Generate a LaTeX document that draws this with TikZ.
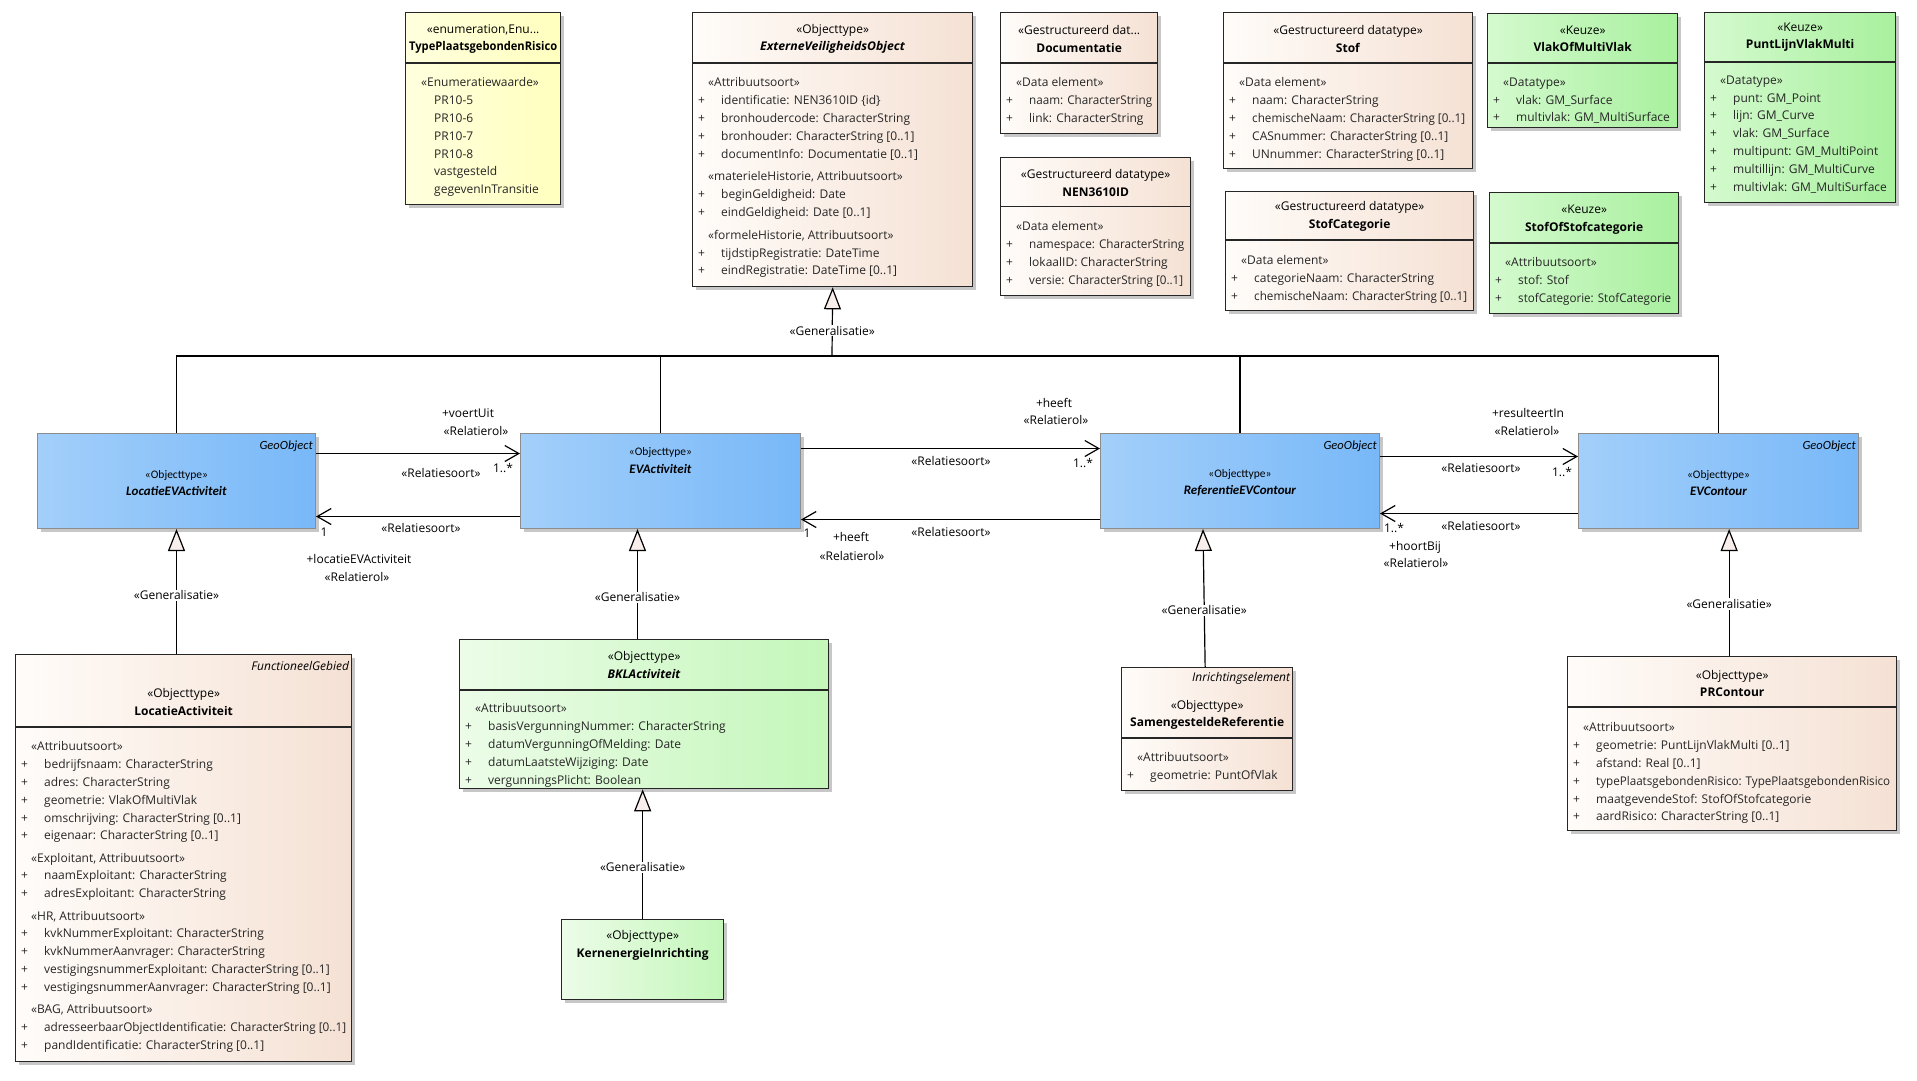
\documentclass[tikz,border=0pt]{standalone}
\usepackage{fontspec}
\setmainfont{Open Sans}
\newfontfamily\narrowfont{Carlito}
\usepackage{graphicx}
\definecolor{geoL}{RGB}{163,207,250}
\definecolor{geoR}{RGB}{120,184,248}
\definecolor{peachL}{RGB}{255,252,249}
\definecolor{peachR}{RGB}{245,225,212}
\definecolor{enumL}{RGB}{255,255,222}
\definecolor{enumR}{RGB}{255,255,190}
\definecolor{grnL}{RGB}{236,252,232}
\definecolor{grnR}{RGB}{196,247,186}
\definecolor{keuzeL}{RGB}{212,250,206}
\definecolor{keuzeR}{RGB}{168,240,158}
\definecolor{trifill}{RGB}{248,238,236}
\usetikzlibrary{arrows.meta,shadows}
\newcommand{\plus}{\makebox[23pt][l]{+}}
\newcommand{\noplus}{\hspace*{23pt}}
\newcommand{\sttp}[1]{\hspace*{10pt}«#1»}
\newcommand{\sqz}[2]{\resizebox{#1pt}{\height}{#2}}

\begin{document}
\begin{tikzpicture}[x=1pt,y=-1pt,
  cls/.style={draw=black!85,line width=1.3pt,anchor=north west,inner sep=0pt,
    drop shadow={shadow xshift=3pt,shadow yshift=-3pt,fill=black!22,opacity=1}},
  peach/.style={cls,left color=peachL,right color=peachR},
  enum/.style={cls,left color=enumL,right color=enumR},
  grn/.style={cls,left color=grnL,right color=grnR},
  keuze/.style={cls,left color=keuzeL,right color=keuzeR},
  geo/.style={cls,draw=black!45,line width=1pt,left color=geoL,right color=geoR},
  div/.style={draw=black!85,line width=1.3pt},
  hd/.style={font=\fontsize{12}{17.5}\selectfont,align=center,inner sep=0pt},
  bd/.style={font=\fontsize{12}{17.8}\selectfont,align=left,anchor=north west,inner sep=0pt,text=black!85},
  tag/.style={font=\fontsize{12}{14}\selectfont\itshape,anchor=east,inner sep=0pt},
  geotag/.style={tag,font=\narrowfont\fontsize{12.5}{14}\selectfont\itshape},
  gh/.style={font=\narrowfont\fontsize{11.5}{17.5}\selectfont,align=center,inner sep=0pt},
  lbl/.style={font=\fontsize{12}{14}\selectfont,inner sep=1pt},
  conn/.style={draw=black,line width=1.2pt},
  assoc/.style={conn,-{Straight Barb[length=14pt,width=16pt]}},
  gen/.style={conn,-{Triangle[length=22pt,width=17pt,fill=trifill]}}
]
  \useasboundingbox[fill=white] (0,0) rectangle (1917,1080);

  % top row
  \node[enum,minimum width=155,minimum height=192] (tpr) at (405,12) {};
  \draw[div] ([yshift=-51]tpr.north west) -- ([yshift=-51]tpr.north east);
  \node[hd] (tpr-h) at ([yshift=-27]tpr.north) {«enumeration,Enu...\\\sqz{148}{\textbf{TypePlaatsgebondenRisico}}};
  \node[bd] (tpr-b) at ([xshift=6,yshift=-65.5]tpr.north west) {\sttp{Enumeratiewaarde}\\
    \noplus PR10-5\\ \noplus PR10-6\\ \noplus PR10-7\\ \noplus PR10-8\\
    \noplus vastgesteld\\ \noplus gegevenInTransitie};

  \node[peach,minimum width=280,minimum height=274] (evo) at (692,12) {};
  \draw[div] ([yshift=-51]evo.north west) -- ([yshift=-51]evo.north east);
  \node[hd] (evo-h) at ([yshift=-27]evo.north) {«Objecttype»\\\sqz{145}{\textbf{\textit{ExterneVeiligheidsObject}}}};
  \node[bd] (evo-b) at ([xshift=6,yshift=-65.5]evo.north west) {\sttp{Attribuutsoort}\\
    \plus identificatie: NEN3610ID \{id\}\\
    \plus bronhoudercode: CharacterString\\
    \plus bronhouder: CharacterString [0..1]\\
    \plus documentInfo: Documentatie [0..1]\\[5pt]
    \sttp{materieleHistorie, Attribuutsoort}\\
    \plus beginGeldigheid: Date\\
    \plus eindGeldigheid: Date [0..1]\\[5pt]
    \sttp{formeleHistorie, Attribuutsoort}\\
    \plus tijdstipRegistratie: DateTime\\
    \plus eindRegistratie: DateTime [0..1]};

  \node[peach,minimum width=157,minimum height=121] (doc) at (1000,12) {};
  \draw[div] ([yshift=-51]doc.north west) -- ([yshift=-51]doc.north east);
  \node[hd] (doc-h) at ([yshift=-27]doc.north) {«Gestructureerd dat...\\\textbf{Documentatie}};
  \node[bd] (doc-b) at ([xshift=6,yshift=-65.5]doc.north west) {\sttp{Data element}\\
    \plus \sqz{123}{naam: CharacterString}\\
    \plus link: CharacterString};

  \node[peach,minimum width=190,minimum height=138] (nen) at (1000,157) {};
  \draw[div] ([yshift=-49.5]nen.north west) -- ([yshift=-49.5]nen.north east);
  \node[hd] (nen-h) at ([yshift=-26]nen.north) {«Gestructureerd datatype»\\\textbf{NEN3610ID}};
  \node[bd] (nen-b) at ([xshift=6,yshift=-64.5]nen.north west) {\sttp{Data element}\\
    \plus \sqz{155}{namespace: CharacterString}\\
    \plus lokaalID: CharacterString\\
    \plus \sqz{154}{versie: CharacterString [0..1]}};

  \node[peach,minimum width=249,minimum height=156] (stof) at (1223,12) {};
  \draw[div] ([yshift=-51]stof.north west) -- ([yshift=-51]stof.north east);
  \node[hd] (stof-h) at ([yshift=-27]stof.north) {«Gestructureerd datatype»\\\textbf{Stof}};
  \node[bd] (stof-b) at ([xshift=6,yshift=-65.5]stof.north west) {\sttp{Data element}\\
    \plus naam: CharacterString\\
    \plus \sqz{213}{chemischeNaam: CharacterString [0..1]}\\
    \plus CASnummer: CharacterString [0..1]\\
    \plus UNnummer: CharacterString [0..1]};

  \node[peach,minimum width=248,minimum height=119] (stofcat) at (1225,191) {};
  \draw[div] ([yshift=-49]stofcat.north west) -- ([yshift=-49]stofcat.north east);
  \node[hd] (stofcat-h) at ([yshift=-25.5]stofcat.north) {«Gestructureerd datatype»\\\textbf{StofCategorie}};
  \node[bd] (stofcat-b) at ([xshift=6,yshift=-64.5]stofcat.north west) {\sttp{Data element}\\
    \plus categorieNaam: CharacterString\\
    \plus \sqz{213}{chemischeNaam: CharacterString [0..1]}};

  \node[keuze,minimum width=190,minimum height=114] (vlak) at (1487,13) {};
  \draw[div] ([yshift=-50]vlak.north west) -- ([yshift=-50]vlak.north east);
  \node[hd] (vlak-h) at ([yshift=-26]vlak.north) {«Keuze»\\\textbf{VlakOfMultiVlak}};
  \node[bd] (vlak-b) at ([xshift=6,yshift=-64.5]vlak.north west) {\sttp{Datatype}\\
    \plus vlak: GM\_Surface\\
    \plus multivlak: GM\_MultiSurface};

  \node[keuze,minimum width=191,minimum height=190] (punt) at (1704,12) {};
  \draw[div] ([yshift=-50]punt.north west) -- ([yshift=-50]punt.north east);
  \node[hd] (punt-h) at ([yshift=-25]punt.north) {«Keuze»\\\textbf{PuntLijnVlakMulti}};
  \node[bd] (punt-b) at ([xshift=6,yshift=-63.5]punt.north west) {\sttp{Datatype}\\
    \plus punt: GM\_Point\\
    \plus lijn: GM\_Curve\\
    \plus vlak: GM\_Surface\\
    \plus multipunt: GM\_MultiPoint\\
    \plus multillijn: GM\_MultiCurve\\
    \plus multivlak: GM\_MultiSurface};

  \node[keuze,minimum width=189,minimum height=121] (sos) at (1489,192) {};
  \draw[div] ([yshift=-51]sos.north west) -- ([yshift=-51]sos.north east);
  \node[hd] (sos-h) at ([yshift=-27.5]sos.north) {«Keuze»\\\textbf{StofOfStofcategorie}};
  \node[bd] (sos-b) at ([xshift=6,yshift=-65.5]sos.north west) {\sttp{Attribuutsoort}\\
    \plus stof: Stof\\
    \plus \sqz{153}{stofCategorie: StofCategorie}};

  % middle row
  \node[geo,minimum width=278,minimum height=95] (locev) at (37,433) {};
  \node[geotag] (locev-t) at ([xshift=-3,yshift=-13]locev.north east) {GeoObject};
  \node[gh] (locev-h) at ([yshift=-50]locev.north) {«Objecttype»\\\fontsize{13}{17.5}\selectfont\textbf{\textit{LocatieEVActiviteit}}};

  \node[geo,minimum width=280,minimum height=95] (evact) at (520,433) {};
  \node[gh] (evact-h) at ([yshift=-27.5]evact.north) {«Objecttype»\\\fontsize{13}{17.5}\selectfont\textbf{\textit{EVActiviteit}}};

  \node[geo,minimum width=279,minimum height=95] (refev) at (1100,433) {};
  \node[geotag] (refev-t) at ([xshift=-3,yshift=-13]refev.north east) {GeoObject};
  \node[gh] (refev-h) at ([yshift=-50]refev.north) {«Objecttype»\\\fontsize{13}{17.5}\selectfont\textbf{\textit{ReferentieEVContour}}};

  \node[geo,minimum width=280,minimum height=95] (evc) at (1578,433) {};
  \node[geotag] (evc-t) at ([xshift=-3,yshift=-13]evc.north east) {GeoObject};
  \node[gh] (evc-h) at ([yshift=-50]evc.north) {«Objecttype»\\\fontsize{13}{17.5}\selectfont\textbf{\textit{EVContour}}};

  % bottom row
  \node[peach,minimum width=336,minimum height=407] (locact) at (15,654) {};
  \draw[div] ([yshift=-73]locact.north west) -- ([yshift=-73]locact.north east);
  \node[tag] (locact-t) at ([xshift=-3,yshift=-12]locact.north east) {FunctioneelGebied};
  \node[hd] (locact-h) at ([yshift=-48]locact.north) {«Objecttype»\\\textbf{LocatieActiviteit}};
  \node[bd] (locact-b) at ([xshift=6,yshift=-87.5]locact.north west) {\sttp{Attribuutsoort}\\
    \plus bedrijfsnaam: CharacterString\\
    \plus adres: CharacterString\\
    \plus geometrie: VlakOfMultiVlak\\
    \plus omschrijving: CharacterString [0..1]\\
    \plus eigenaar: CharacterString [0..1]\\[4.5pt]
    \sttp{Exploitant, Attribuutsoort}\\
    \plus naamExploitant: CharacterString\\
    \plus adresExploitant: CharacterString\\[4.5pt]
    \sttp{HR, Attribuutsoort}\\
    \plus kvkNummerExploitant: CharacterString\\
    \plus kvkNummerAanvrager: CharacterString\\
    \plus vestigingsnummerExploitant: CharacterString [0..1]\\
    \plus vestigingsnummerAanvrager: CharacterString [0..1]\\[4.5pt]
    \sttp{BAG, Attribuutsoort}\\
    \plus \sqz{302}{adresseerbaarObjectIdentificatie: CharacterString [0..1]}\\
    \plus pandIdentificatie: CharacterString [0..1]};

  \node[grn,minimum width=369,minimum height=149] (bkl) at (459,639) {};
  \draw[div] ([yshift=-51]bkl.north west) -- ([yshift=-51]bkl.north east);
  \node[hd] (bkl-h) at ([yshift=-26]bkl.north) {«Objecttype»\\\textbf{\textit{BKLActiviteit}}};
  \node[bd] (bkl-b) at ([xshift=6,yshift=-64.5]bkl.north west) {\sttp{Attribuutsoort}\\
    \plus basisVergunningNummer: CharacterString\\
    \plus datumVergunningOfMelding: Date\\
    \plus datumLaatsteWijziging: Date\\
    \plus vergunningsPlicht: Boolean};

  \node[grn,minimum width=162,minimum height=80] (kern) at (561,919) {};
  \node[hd] (kern-h) at ([yshift=-26.5]kern.north) {«Objecttype»\\\textbf{KernenergieInrichting}};

  \node[peach,minimum width=171,minimum height=123] (samref) at (1121,667) {};
  \draw[div] ([yshift=-71]samref.north west) -- ([yshift=-71]samref.north east);
  \node[tag] (samref-t) at ([xshift=-3,yshift=-11]samref.north east) {Inrichtingselement};
  \node[hd] (samref-h) at ([yshift=-48]samref.north) {«Objecttype»\\\textbf{SamengesteldeReferentie}};
  \node[bd] (samref-b) at ([xshift=6,yshift=-85.5]samref.north west) {\sttp{Attribuutsoort}\\
    \plus geometrie: PuntOfVlak};

  \node[peach,minimum width=329,minimum height=174] (prc) at (1567,656) {};
  \draw[div] ([yshift=-51]prc.north west) -- ([yshift=-51]prc.north east);
  \node[hd] (prc-h) at ([yshift=-27.5]prc.north) {«Objecttype»\\\textbf{PRContour}};
  \node[bd] (prc-b) at ([xshift=6,yshift=-66.5]prc.north west) {\sttp{Attribuutsoort}\\
    \plus geometrie: PuntLijnVlakMulti [0..1]\\
    \plus afstand: Real [0..1]\\
    \plus \sqz{294}{typePlaatsgebondenRisico: TypePlaatsgebondenRisico}\\
    \plus maatgevendeStof: StofOfStofcategorie\\
    \plus aardRisico: CharacterString [0..1]};

  % generalisatie naar ExterneVeiligheidsObject
  \coordinate (bus) at (832,356);
  \draw[conn] (locev.north) |- (bus) -| (evc.north);
  \draw[conn] (evact.north) |- (bus);
  \draw[conn] (refev.north) |- (bus);
  \draw[gen] (bus) -- node[lbl,fill=white,pos=0.37] (g0) {«Generalisatie»} (evo.south);

  \draw[gen] (locact.north -| locev.south) -- node[lbl,fill=white,pos=0.47] (g1) {«Generalisatie»} (locev.south);
  \coordinate (ge) at ([xshift=-23]evact.south);
  \draw[gen] (bkl.north -| ge) -- node[lbl,fill=white,pos=0.38] (g2) {«Generalisatie»} (ge);
  \draw[gen] (kern.north) -- node[lbl,fill=white,pos=0.40] (g3) {«Generalisatie»} (kern.north |- bkl.south);
  \draw[gen] ([xshift=-2]samref.north) -- node[lbl,fill=white,pos=0.41] (g4) {«Generalisatie»} ([xshift=-37]refev.south);
  \draw[gen] ([xshift=-3]prc.north) -- node[lbl,fill=white,pos=0.41] (g5) {«Generalisatie»} ([xshift=-3]prc.north |- evc.south);

  % relaties
  \draw[assoc] ([yshift=27.5]locev.east) -- ([yshift=27.5]evact.west);
  \draw[assoc] ([yshift=-35.5]evact.west) -- ([yshift=-35.5]locev.east);
  \draw[assoc] ([yshift=32.5]evact.east) -- ([yshift=32.5]refev.west);
  \draw[assoc] ([yshift=-38.5]refev.west) -- ([yshift=-38.5]evact.east);
  \draw[assoc] ([yshift=24.5]refev.east) -- ([yshift=24.5]evc.west);
  \draw[assoc] ([yshift=-32.5]evc.west) -- ([yshift=-32.5]refev.east);

  \node[lbl] (r1a) at (468,413) {+voertUit};
  \node[lbl] (r1b) at (476,431) {«Relatierol»};
  \node[lbl] (r1c) at (441,473) {«Relatiesoort»};
  \node[lbl] (r1d) at (503,468) {1..*};
  \node[lbl] (r2a) at (324,532) {1};
  \node[lbl] (r2b) at (421,528) {«Relatiesoort»};
  \node[lbl] (r2c) at (359,559) {+locatieEVActiviteit};
  \node[lbl] (r2d) at (357,577) {«Relatierol»};
  \node[lbl] (r3a) at (1054,403) {+heeft};
  \node[lbl] (r3b) at (1056,420) {«Relatierol»};
  \node[lbl] (r3c) at (951,461) {«Relatiesoort»};
  \node[lbl] (r3d) at (1083,463) {1..*};
  \node[lbl] (r4a) at (807,533) {1};
  \node[lbl] (r4b) at (851,537) {+heeft};
  \node[lbl] (r4c) at (852,556) {«Relatierol»};
  \node[lbl] (r4d) at (951,532) {«Relatiesoort»};
  \node[lbl] (r5a) at (1528,413) {+resulteertIn};
  \node[lbl] (r5b) at (1527,431) {«Relatierol»};
  \node[lbl] (r5c) at (1481,468) {«Relatiesoort»};
  \node[lbl] (r5d) at (1562,472) {1..*};
  \node[lbl] (r6a) at (1394,528) {1..*};
  \node[lbl] (r6b) at (1481,526) {«Relatiesoort»};
  \node[lbl] (r6c) at (1415,547) {+hoortBij};
  \node[lbl] (r6d) at (1416,563) {«Relatierol»};
\end{tikzpicture}
\end{document}
